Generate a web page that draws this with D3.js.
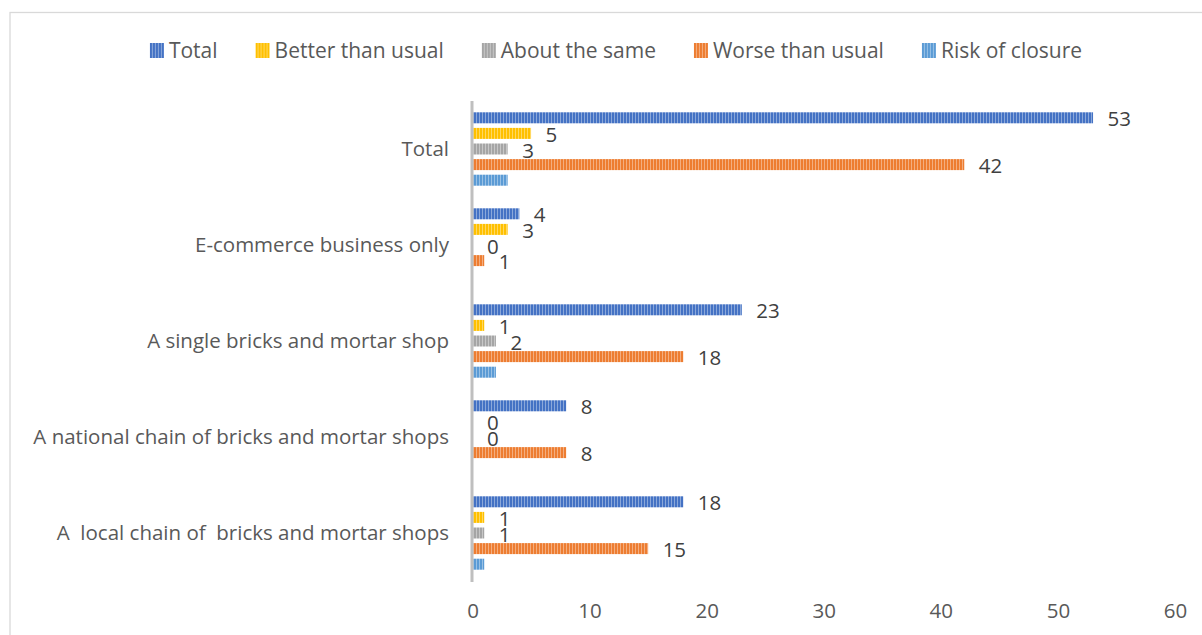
<!DOCTYPE html>
<html>
<head>
<meta charset="utf-8">
<script src="https://cdn.jsdelivr.net/npm/d3@7"></script>
<style>
  html, body { margin: 0; padding: 0; background: #fff; }
  svg { display: block; font-family: "Open Sans", "Noto Sans", sans-serif; }
  text { white-space: pre; }
</style>
</head>
<body>
<div id="chart"></div>
<script>
// Data
const categories = [
  "Total",
  "E-commerce business only",
  "A single bricks and mortar shop",
  "A national chain of bricks and mortar shops",
  "A  local chain of  bricks and mortar shops"
];
const seriesNames = ["Total", "Better than usual", "About the same", "Worse than usual", "Risk of closure"];
const totalValues  = [53, 4, 23, 8, 18];
const betterValues = [5, 3, 1, 0, 1];
const sameValues   = [3, 0, 2, 0, 1];
const worseValues  = [42, 1, 18, 8, 15];
const riskValues   = [3, null, 2, null, 1];
const showLabels   = [true, true, true, true, false];
const xTicks = [0, 10, 20, 30, 40, 50, 60];

const seriesValues = [totalValues, betterValues, sameValues, worseValues, riskValues];
const colors = ["#4472C4", "#FFC000", "#A5A5A5", "#ED7D31", "#5B9BD5"];

// Options
const width = 1202, height = 635;
const margin = {top: 101, right: 28, bottom: 54, left: 472.5};
const fontSize = 20.5;
const legendFontSize = 21;
const textColor = "#595959";
const labelColor = "#404040";
const barHeight = 11;

const svg = d3.select("#chart").append("svg")
  .attr("width", width)
  .attr("height", height);

// Striped fills, one per series
const defs = svg.append("defs");
colors.forEach((c, i) => {
  const p = defs.append("pattern")
    .attr("id", "stripe" + i)
    .attr("patternUnits", "userSpaceOnUse")
    .attr("width", 3)
    .attr("height", 10);
  p.append("rect").attr("width", 3).attr("height", 10).attr("fill", c);
  p.append("rect").attr("x", 2).attr("width", 1).attr("height", 10)
    .attr("fill", d3.interpolateRgb(c, "#fff")(0.38));
});

// Chart area border
svg.append("rect")
  .attr("x", 10).attr("y", 12.5)
  .attr("width", width + 20).attr("height", height + 20)
  .attr("fill", "none")
  .attr("stroke", "#D9D9D9")
  .attr("stroke-width", 1.3);

// Scales
const x = d3.scaleLinear()
  .domain([0, 60])
  .range([margin.left, 1175]);
const y = d3.scaleBand()
  .domain(categories)
  .range([margin.top, margin.top + 480]);
const ySub = d3.scaleBand()
  .domain(d3.range(seriesNames.length))
  .range([9, y.bandwidth() - 9]);

// Category labels
svg.append("g")
  .selectAll("text")
  .data(categories)
  .join("text")
    .attr("x", 449)
    .attr("y", d => y(d) + y.bandwidth() / 2)
    .attr("dy", "0.35em")
    .attr("text-anchor", "end")
    .attr("font-size", fontSize)
    .attr("fill", textColor)
    .text(d => d);

// X axis tick labels
const xAxis = svg.append("g")
  .attr("transform", `translate(0,${margin.top + 480})`)
  .call(d3.axisBottom(x).tickValues(xTicks).tickSize(0).tickPadding(22));
xAxis.select(".domain").remove();
xAxis.selectAll("text")
  .attr("font-size", fontSize)
  .attr("font-family", "\"Open Sans\", \"Noto Sans\", sans-serif")
  .attr("fill", textColor);

// Bars
seriesValues.forEach((vals, s) => {
  const g = svg.append("g");
  const rows = categories.map((c, i) => ({cat: c, value: vals[i]})).filter(d => d.value != null);
  g.selectAll("rect")
    .data(rows)
    .join("rect")
      .attr("x", x(0))
      .attr("y", d => y(d.cat) + ySub(s) + ySub.bandwidth() / 2 - barHeight / 2)
      .attr("width", d => x(d.value) - x(0))
      .attr("height", barHeight)
      .attr("fill", `url(#stripe${s})`);
  if (showLabels[s]) {
    g.selectAll("text")
      .data(rows)
      .join("text")
        .attr("x", d => x(d.value) + 14.5)
        .attr("y", d => y(d.cat) + ySub(s) + ySub.bandwidth() / 2 + 1.5)
        .attr("dy", "0.35em")
        .attr("font-size", fontSize)
        .attr("fill", labelColor)
        .text(d => d.value);
  }
});

// Vertical axis line
svg.append("line")
  .attr("x1", x(0) - 0.5).attr("x2", x(0) - 0.5)
  .attr("y1", margin.top).attr("y2", margin.top + 481)
  .attr("stroke", "#BFBFBF")
  .attr("stroke-width", 3);

// Legend
const legend = svg.append("g");
const items = legend.selectAll("g")
  .data(seriesNames)
  .join("g");
items.append("rect")
  .attr("width", 14).attr("height", 15)
  .attr("y", -15)
  .attr("fill", (d, i) => `url(#stripe${i})`);
items.append("text")
  .attr("x", 19)
  .attr("font-size", legendFontSize)
  .attr("fill", textColor)
  .text(d => d);
let offset = 0;
const itemGap = 38;
items.each(function() {
  const w = this.getBBox().width;
  d3.select(this).attr("data-x", offset);
  offset += w + itemGap;
});
const legendWidth = offset - itemGap;
const legendStart = 616 - legendWidth / 2;
items.attr("transform", function() {
  return `translate(${legendStart + (+this.getAttribute("data-x"))},58)`;
});
</script>
</body>
</html>
